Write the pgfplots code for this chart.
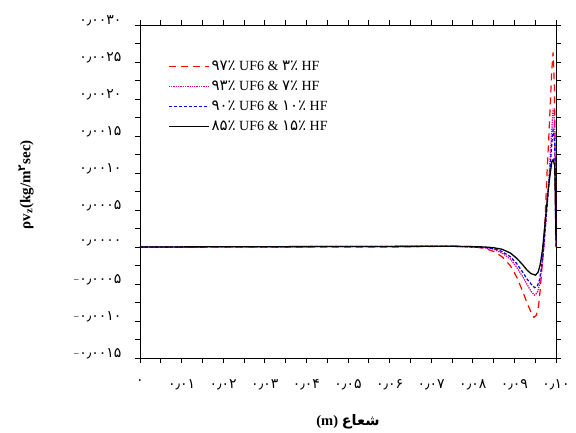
\documentclass[border=0pt]{standalone}
\usepackage{fontspec}
\setmainfont{Liberation Serif}
\newfontfamily\arabicfont[Script=Arabic]{DejaVu Sans}
\TeXXeTstate=1
\usepackage{pgfplots}
\pgfplotsset{compat=1.18}
\newcommand{\fa}[1]{{\arabicfont\fontsize{14}{16}\selectfont #1}}
\newcommand{\fl}[1]{{\arabicfont\fontsize{15}{16}\selectfont #1}}
\begin{document}
\begin{tikzpicture}
\path[use as bounding box] (-140pt,-74pt) rectangle (436pt,358pt);
\begin{axis}[
  scale only axis, width=416pt, height=333pt,
  xmin=0, xmax=0.1, ymin=-0.0015, ymax=0.0030,
  axis line style={black, line width=0.8pt},
  tick align=outside, tick style={black, line width=0.6pt},
  major tick length=5pt, minor tick length=5pt,
  xtick={0,0.01,0.02,0.03,0.04,0.05,0.06,0.07,0.08,0.09,0.1},
  minor xtick={0.005,0.015,0.025,0.035,0.045,0.055,0.065,0.075,0.085,0.095},
  xticklabels={\fa{۰},\fa{۰٫۰۱},\fa{۰٫۰۲},\fa{۰٫۰۳},\fa{۰٫۰۴},\fa{۰٫۰۵},\fa{۰٫۰۶},\fa{۰٫۰۷},\fa{۰٫۰۸},\fa{۰٫۰۹},\fa{۰٫۱۰}},
  ytick={-0.0015,-0.001,-0.0005,0,0.0005,0.001,0.0015,0.002,0.0025,0.003},
  minor ytick={-0.00125,-0.00075,-0.00025,0.00025,0.00075,0.00125,0.00175,0.00225,0.00275},
  yticklabels={−\fa{۰٫۰۰۱۵},−\fa{۰٫۰۰۱۰},−\fa{۰٫۰۰۰۵},\fa{۰٫۰۰۰۰},\fa{۰٫۰۰۰۵},\fa{۰٫۰۰۱۰},\fa{۰٫۰۰۱۵},\fa{۰٫۰۰۲۰},\fa{۰٫۰۰۲۵},\fa{۰٫۰۰۳۰}},
  scaled ticks=false,
  xticklabel style={yshift=-13pt},
  yticklabel style={xshift=-10pt, yshift=4pt},
  xlabel={\fontsize{14.5}{16}\selectfont\bfseries (m) {\arabicfont شعاع}},
  xlabel style={at={(axis description cs:0.5,-0.192)}, anchor=center},
  ylabel={\fontsize{15}{17}\selectfont\bfseries ρv\textsubscript{z}(kg/m\textsuperscript{{\arabicfont\fontsize{10.5}{11}\selectfont ۲}}sec)},
  ylabel style={at={(axis description cs:-0.274,0.52)}, anchor=center, rotate=0},
  legend style={draw=none, fill=none, at={(0.06,0.905)}, anchor=north west,
    font=\fontsize{14}{16}\selectfont, row sep=5pt, cells={anchor=west}},
  legend image code/.code={\draw[#1, line width=1.4pt] (0pt,0pt) -- (40pt,0pt);},
]
\addplot[red, line width=1.2pt, dash pattern=on 7pt off 5pt] coordinates {
(0,0) (0.06,0) (0.075,0.00001) (0.08,0.000005) (0.083,-0.00002) (0.085,-0.00006) (0.087,-0.00013) (0.089,-0.00025) (0.0905,-0.0004) (0.092,-0.0006) (0.093,-0.00075) (0.094,-0.00088) (0.0947,-0.00095) (0.0953,-0.00092) (0.0958,-0.0008) (0.0962,-0.00058) (0.0966,-0.0003) (0.097,-0.00004) (0.0974,0.0004) (0.0978,0.00095) (0.0982,0.0014) (0.0986,0.0019) (0.099,0.0024) (0.0993,0.00263) (0.0996,0.0022) (0.0999,0.0008) (0.1,0)
};
\addlegendentry{\fl{۹۷٪} UF6 \& \fl{۳٪} HF}
\addplot[magenta, line width=1.3pt, densely dotted] coordinates {
(0,0) (0.075,0.00001) (0.08,0) (0.083,-0.00001) (0.085,-0.00003) (0.087,-0.00008) (0.089,-0.00016) (0.0905,-0.00027) (0.092,-0.0004) (0.093,-0.0005) (0.094,-0.0006) (0.0948,-0.00065) (0.0955,-0.00062) (0.096,-0.00052) (0.0965,-0.00032) (0.097,-0.00005) (0.0975,0.0003) (0.098,0.0007) (0.0985,0.0011) (0.099,0.0016) (0.0993,0.00187) (0.0997,0.0017) (0.1,0)
};
\addlegendentry{\fl{۹۳٪} UF6 \& \fl{۷٪} HF}
\addplot[blue, line width=1.2pt, dash pattern=on 3pt off 2pt] coordinates {
(0,0) (0.075,0.00001) (0.08,0) (0.083,-0.00001) (0.085,-0.00002) (0.087,-0.00006) (0.089,-0.00013) (0.0905,-0.00022) (0.092,-0.00034) (0.093,-0.00043) (0.094,-0.0005) (0.0949,-0.00055) (0.0955,-0.00053) (0.096,-0.00045) (0.0965,-0.00028) (0.097,-0.00003) (0.0975,0.0003) (0.098,0.00065) (0.0985,0.001) (0.099,0.0014) (0.0993,0.00158) (0.0997,0.0014) (0.1,0)
};
\addlegendentry{\fl{۹۰٪} UF6 \& \fl{۱۰٪} HF}
\addplot[black, line width=1.3pt] coordinates {
(0,0) (0.075,0.00001) (0.08,0.000005) (0.083,0) (0.085,-0.00001) (0.087,-0.00003) (0.089,-0.00008) (0.0905,-0.00015) (0.092,-0.00024) (0.093,-0.00031) (0.094,-0.00036) (0.0951,-0.00038) (0.0957,-0.00034) (0.0962,-0.00024) (0.0967,-0.00006) (0.097,0.0001) (0.0975,0.0004) (0.098,0.0007) (0.0985,0.00095) (0.099,0.00115) (0.0993,0.00118) (0.0997,0.0011) (0.1,0.0001)
};
\addlegendentry{\fl{۸۵٪} UF6 \& \fl{۱۵٪} HF}
\end{axis}
\end{tikzpicture}
\end{document}
